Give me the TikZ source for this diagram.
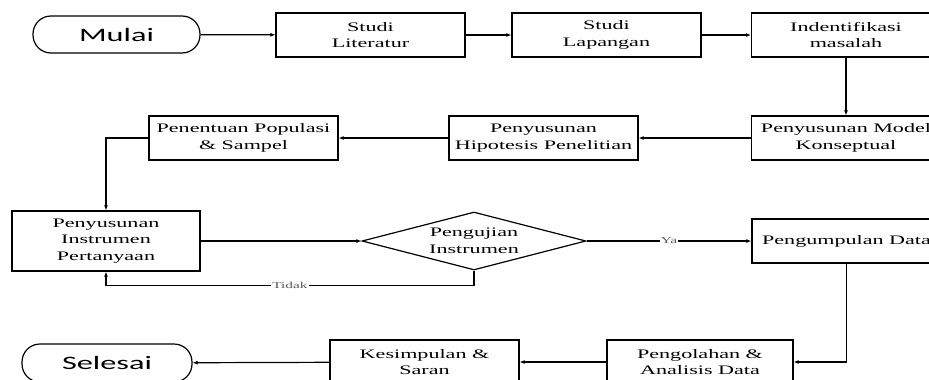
\documentclass[tikz,border=0pt]{standalone}
\usepackage{fontspec}
\setmainfont{Liberation Serif}[FakeStretch=1.7]
\newfontfamily\termfont{Carlito}[FakeStretch=1.7]
\usetikzlibrary{shapes.geometric,arrows.meta}

\begin{document}
\begin{tikzpicture}[x=1pt,y=-1pt,line width=1.2pt,
	prosesbox/.style={draw, rectangle, minimum width=189pt, minimum height=44pt,
		inner sep=2pt, align=center, font=\fontsize{13}{16.5}\selectfont},
	terminal/.style={draw, rectangle, rounded corners=18pt, minimum width=167pt,
		minimum height=37pt, font=\termfont\fontsize{19}{22}\selectfont},
	keputusan/.style={draw, diamond, aspect=3.86, inner sep=0pt, minimum width=224pt,
		minimum height=58pt, align=center, font=\fontsize{13}{16.5}\selectfont},
	panah/.style={-{Latex[length=5pt,width=4pt]}},
	ket/.style={fill=white, inner sep=1pt, text=black!65, font=\fontsize{9}{10}\selectfont}]
	
	\useasboundingbox (0,0) rectangle (929,380);
	\clip (0,0) rectangle (929,380);
	
	% Top row
	\node[terminal] (mulai) at (116.5,34.5) {Mulai};
	\node[prosesbox] (literatur) at (370.5,35) {Studi\\Literatur};
	\node[prosesbox] (lapangan) at (606.5,35) {Studi\\Lapangan};
	\node[prosesbox] (identifikasi) at (846,35) {Indentifikasi\\masalah};
	
	% Second row
	\node[prosesbox] (model) at (846,138) {Penyusunan Model\\Konseptual};
	\node[prosesbox] (hipotesis) at (543.5,138) {Penyusunan\\Hipotesis Penelitian};
	\node[prosesbox] (populasi) at (243.5,138) {Penentuan Populasi\\\& Sampel};
	
	% Third row
	\node[prosesbox, minimum width=188pt, minimum height=60pt] (instrumen) at (106,241)
		{Penyusunan\\Instrumen\\Pertanyaan};
	\node[keputusan] (uji) at (474,241) {Pengujian\\Instrumen};
	\node[prosesbox] (pengumpulan) at (846.5,241) {Pengumpulan Data};
	
	% Bottom row
	\node[prosesbox, minimum width=186pt] (pengolahan) at (700,362) {Pengolahan \&\\Analisis Data};
	\node[prosesbox] (kesimpulan) at (424.5,362) {Kesimpulan \&\\Saran};
	\node[terminal, minimum width=170pt, minimum height=38pt] (selesai) at (107,363) {Selesai};
	
	% Connectors
	\draw[panah] (mulai) -- (literatur);
	\draw[panah] (literatur) -- (lapangan);
	\draw[panah] (lapangan) -- (identifikasi);
	\draw[panah] (identifikasi) -- (model);
	\draw[panah] (model) -- (hipotesis);
	\draw[panah] (hipotesis) -- (populasi);
	\draw[panah] (populasi.west) -| (instrumen.north);
	\draw[panah] (instrumen) -- (uji.west);
	\draw[panah] (uji.south) -- ++(0,15) -| node[pos=0.25, ket] {Tidak} (instrumen.south);
	\draw[panah] (uji.east) -- node[ket] {Ya} (pengumpulan.west);
	\draw[panah] (pengumpulan.south) |- (pengolahan.east);
	\draw[panah] (pengolahan) -- (kesimpulan);
	\draw[panah] (kesimpulan) -- (selesai);
	
\end{tikzpicture}
\end{document}
